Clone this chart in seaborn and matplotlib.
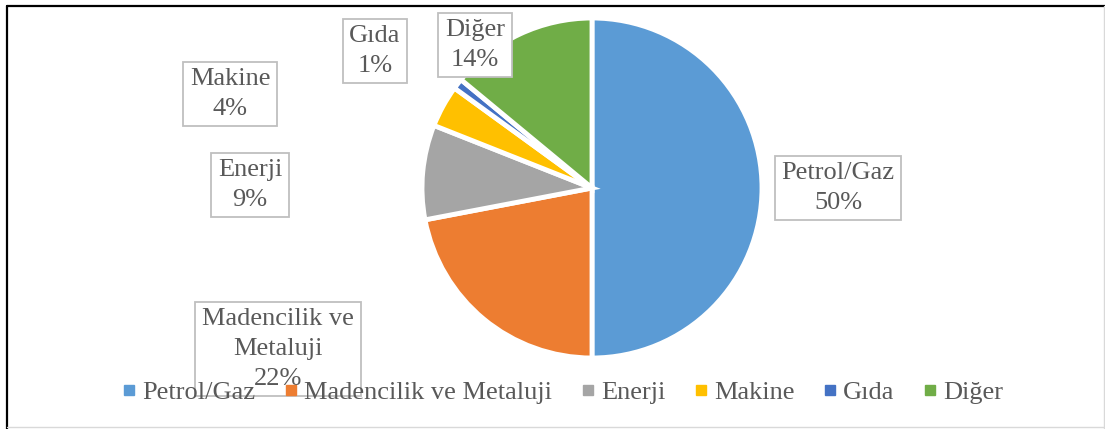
"""
Sector distribution pie chart (Excel style)
"""
import matplotlib
matplotlib.use('Agg')
import matplotlib.pyplot as plt
from matplotlib.lines import Line2D
import seaborn as sns

# Data
SECTORS = ['Petrol/Gaz', 'Madencilik ve Metaluji', 'Enerji', 'Makine', 'Gıda', 'Diğer']
SHARES = [50, 22, 9, 4, 1, 14]
LABEL_TEXT = ['Petrol/Gaz', 'Madencilik ve\nMetaluji', 'Enerji', 'Makine', 'Gıda', 'Diğer']
COLORS = ['#5B9BD5', '#ED7D31', '#A5A5A5', '#FFC000', '#4472C4', '#70AD47']

# Manually placed label boxes (pixel coords, y from top)
LABEL_POS = [(838, 188), (278, 349), (250, 185), (230, 94), (375, 51), (475, 45)]

W, H = 1105, 429
TEXT_COLOR = '#595959'
FS = 19

sns.set_theme(style='white')
plt.rcParams['font.family'] = ['Liberation Serif', 'DejaVu Serif']

palette = sns.color_palette(COLORS)

fig = plt.figure(figsize=(W / 100, H / 100), dpi=100)
ax = fig.add_axes([0, 0, 1, 1])

ax.pie(SHARES, colors=palette, startangle=90, counterclock=False,
       center=(592, H - 188), radius=170,
       wedgeprops={'edgecolor': 'white', 'linewidth': 3.5})
ax.set_xlim(0, W)
ax.set_ylim(0, H)
ax.set_aspect('auto')
ax.axis('off')

# Data labels in boxes
for name, share, (px, py) in zip(LABEL_TEXT, SHARES, LABEL_POS):
    ax.text(px, H - py, f'{name}\n{share}%', ha='center', va='center',
            fontsize=FS, color=TEXT_COLOR, linespacing=1.45, zorder=5,
            bbox=dict(boxstyle='square,pad=0.25', facecolor='white',
                      edgecolor='#BFBFBF', linewidth=1.3))

# Legend
handles = [Line2D([0], [0], marker='s', linestyle='none', markersize=7,
                  markerfacecolor=c, markeredgecolor=c) for c in palette]
leg = fig.legend(handles, SECTORS, loc='center', bbox_to_anchor=(0.51, 1 - 392 / H),
                 ncol=6, frameon=False, fontsize=FS, handlelength=0.4,
                 handletextpad=0.3, columnspacing=1.15, labelcolor=TEXT_COLOR)
leg.set_zorder(10)

# Chart border
fig.add_artist(Line2D([7 / W, 1], [1 - 6 / H, 1 - 6 / H], color='black', linewidth=1.6))
fig.add_artist(Line2D([7 / W, 7 / W], [0, 1 - 6 / H], color='black', linewidth=1.6))
fig.add_artist(Line2D([1 - 1.5 / W, 1 - 1.5 / W], [0, 1 - 6 / H], color='#D9D9D9', linewidth=1))
fig.add_artist(Line2D([7 / W, 1], [2 / H, 2 / H], color='#D9D9D9', linewidth=1))

plt.savefig('out.png', dpi=100)
